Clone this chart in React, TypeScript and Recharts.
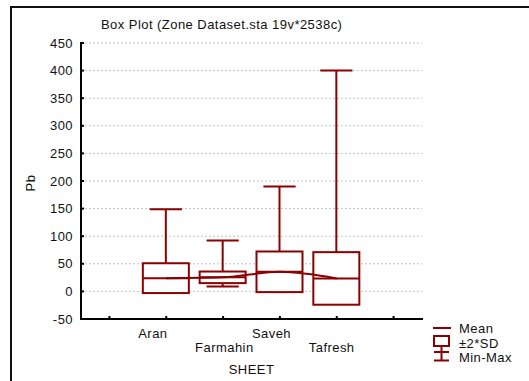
import React from "react";
import { ComposedChart, Bar, Line, XAxis, YAxis, CartesianGrid } from "recharts";

// one slot per sheet, with an empty slot at each end of the axis
const sheets = ["", "Aran", "Farmahin", "Saveh", "Tafresh", " "];
const means = [null, 24, 25.5, 35.5, 23.5, null];
const sds = [null, 13.5, 5.25, 18.4, 23.8, null];
const mins = [null, 1, 9, 2, 1, null];
const maxs = [null, 149, 92, 190, 400, null];
const yTicks = [-50, 0, 50, 100, 150, 200, 250, 300, 350, 400, 450];
const slotTicks = [0, 1, 2, 3, 4, 5];

const RED = "#8B0000";
const FONT = "'Liberation Sans', Arial, sans-serif";
const textStyle = { fontFamily: FONT, fontSize: 13, letterSpacing: 0.45, fill: "#111" };

const data = sheets.map((sheet, i) => {
  const mean = means[i];
  const sd = sds[i];
  const min = mins[i];
  const max = maxs[i];
  if (mean == null || sd == null || min == null || max == null) {
    return { sheet, mean: null, sd: null, min: null, max: null, span: null };
  }
  const lo = Math.min(min, mean - 2 * sd);
  const hi = Math.max(max, mean + 2 * sd);
  return { sheet, mean, sd, min, max, span: [lo, hi] };
});

// whiskers (min-max), the ±2*SD box and the mean line, mapped inside the bar's own range
function BoxShape(props: any) {
  const { x, y, width, height, payload } = props;
  if (!payload || payload.mean == null) return <g />;
  const top = Math.min(y, y + height);
  const h = Math.abs(height);
  const [lo, hi] = payload.span;
  const py = (v: number) => top + ((hi - v) / (hi - lo)) * h;
  const cx = x + width / 2;
  const cap = width * 0.35;
  const yMax = py(payload.max);
  const yMin = py(payload.min);
  const boxTop = py(payload.mean + 2 * payload.sd);
  const boxBot = py(payload.mean - 2 * payload.sd);
  const yMean = py(payload.mean);
  return (
    <g stroke={RED} strokeWidth={2} fill="none">
      <line x1={cx} x2={cx} y1={yMax} y2={yMin} />
      <line x1={cx - cap} x2={cx + cap} y1={yMax} y2={yMax} />
      <line x1={cx - cap} x2={cx + cap} y1={yMin} y2={yMin} />
      <rect x={x} y={boxTop} width={width} height={boxBot - boxTop} fill="#fff" />
      <line x1={x} x2={x + width} y1={yMean} y2={yMean} />
    </g>
  );
}

function SheetTick(props: any) {
  const { x, y, payload, index } = props;
  const label = String(payload.value).trim();
  const dy = index % 2 === 1 ? 19 : 33;
  return (
    <g>
      <line x1={x} x2={x} y1={y} y2={y - 3} stroke="#000" strokeWidth={2} />
      {label ? (
        <text x={x - 28} y={y + dy} textAnchor="start" style={textStyle}>
          {label}
        </text>
      ) : null}
    </g>
  );
}

function TopTick(props: any) {
  const { x, y } = props;
  return <line x1={x} x2={x} y1={y} y2={y + 3} stroke="#000" strokeWidth={2} />;
}

function ValueTick(props: any) {
  const { x, y, payload } = props;
  return (
    <g>
      <line x1={x} x2={x + 3} y1={y} y2={y} stroke="#000" strokeWidth={2} />
      <text x={x - 8} y={y} dy="0.36em" textAnchor="end" style={textStyle}>
        {payload.value}
      </text>
    </g>
  );
}

function RightTick(props: any) {
  const { x, y } = props;
  return <line x1={x} x2={x - 3} y1={y} y2={y} stroke="#000" strokeWidth={2} />;
}

const axisLine = { stroke: "#000", strokeWidth: 2, strokeLinecap: "square" as const };

export default function App() {
  return (
    <div
      style={{
        position: "absolute",
        left: 0,
        top: 0,
        width: 529,
        height: 381,
        overflow: "hidden",
        background: "#fff",
      }}
    >
      <div
        style={{
          position: "absolute",
          left: 10,
          top: 6,
          width: 600,
          height: 500,
          borderLeft: "2px solid #111",
          borderTop: "2px solid #111",
        }}
      />
      <div style={{ position: "absolute", left: 0, top: 0 }}>
        <ComposedChart
          width={529}
          height={381}
          data={data}
          margin={{ top: 43, right: 107, bottom: 22, left: 0 }}
        >
          <CartesianGrid vertical={false} stroke="#c4c4c4" strokeDasharray="2 2" />
          <XAxis
            dataKey="sheet"
            height={40}
            interval={0}
            tickSize={0}
            tickMargin={0}
            tickLine={false}
            axisLine={axisLine}
            tick={SheetTick}
            label={(p: any) => (
              <text
                x={p.viewBox.x + p.viewBox.width / 2}
                y={p.viewBox.y + 55}
                textAnchor="middle"
                style={textStyle}
              >
                SHEET
              </text>
            )}
          />
          <XAxis
            xAxisId="top"
            orientation="top"
            type="number"
            domain={[-0.5, 5.5]}
            ticks={slotTicks}
            height={0}
            tickSize={0}
            tickMargin={0}
            tickLine={false}
            axisLine={axisLine}
            tick={TopTick}
          />
          <YAxis
            type="number"
            domain={[-50, 450]}
            ticks={yTicks}
            interval={0}
            width={81}
            tickSize={0}
            tickMargin={0}
            tickLine={false}
            axisLine={axisLine}
            tick={ValueTick}
            label={(p: any) => {
              const cx = p.viewBox.x + 30;
              const cy = p.viewBox.y + p.viewBox.height / 2 + 2;
              return (
                <text
                  x={cx}
                  y={cy}
                  dy="0.36em"
                  textAnchor="middle"
                  transform={`rotate(-90 ${cx} ${cy})`}
                  style={textStyle}
                >
                  Pb
                </text>
              );
            }}
          />
          <YAxis
            yAxisId="right"
            orientation="right"
            type="number"
            domain={[-50, 450]}
            ticks={yTicks}
            interval={0}
            width={0}
            tickSize={0}
            tickMargin={0}
            tickLine={false}
            axisLine={axisLine}
            tick={RightTick}
          />
          <Bar dataKey="span" barSize={46} shape={BoxShape} isAnimationActive={false} />
          <Line
            dataKey="mean"
            type="monotone"
            stroke={RED}
            strokeWidth={2}
            dot={false}
            activeDot={false}
            isAnimationActive={false}
          />
        </ComposedChart>
      </div>
      <svg
        width={529}
        height={381}
        style={{ position: "absolute", left: 0, top: 0, pointerEvents: "none" }}
      >
        <text x={101} y={28.7} style={textStyle}>
          Box Plot (Zone Dataset.sta 19v*2538c)
        </text>
        <g stroke={RED} strokeWidth={2} fill="none">
          <line x1={433} x2={451} y1={328} y2={328} />
          <rect x={434} y={336} width={15} height={10} />
          <line x1={441.5} x2={441.5} y1={346} y2={360.5} />
          <line x1={434} x2={449} y1={352} y2={352} />
          <line x1={434} x2={449} y1={360.5} y2={360.5} />
        </g>
        <text x={459} y={332.6} style={textStyle}>
          Mean
        </text>
        <text x={459} y={347.6} style={textStyle}>
          ±2*SD
        </text>
        <text x={459} y={362} style={textStyle}>
          Min-Max
        </text>
      </svg>
    </div>
  );
}
